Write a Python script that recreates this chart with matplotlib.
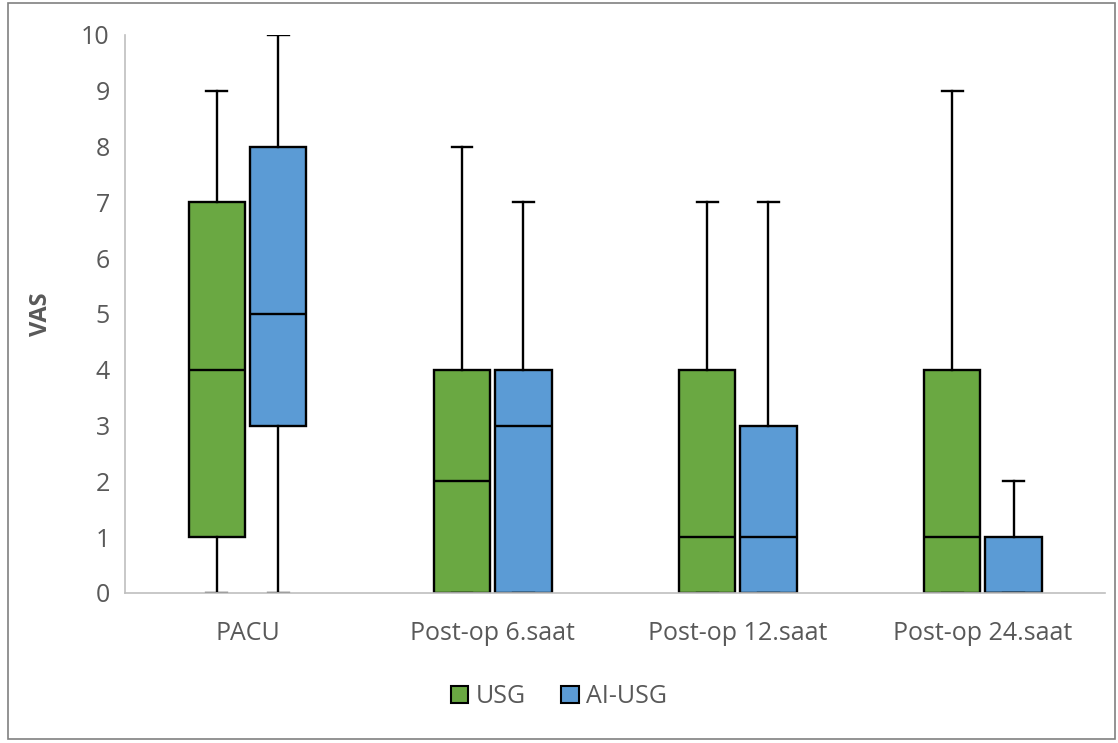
import matplotlib
matplotlib.use('Agg')
import matplotlib.pyplot as plt
from matplotlib.patches import Patch, Rectangle

categories = ["PACU", "Post-op 6.saat", "Post-op 12.saat", "Post-op 24.saat"]
groups = ["USG", "AI-USG"]

# five-number summaries per time point: (min, q1, median, q3, max)
usg = [(0, 1, 4, 7, 9), (0, 0, 2, 4, 8), (0, 0, 1, 4, 7), (0, 0, 1, 4, 9)]
ai_usg = [(0, 3, 5, 8, 10), (0, 0, 3, 4, 7), (0, 0, 1, 3, 7), (0, 0, 0, 1, 2)]

colors = ["#6aa842", "#5b9bd5"]
text_gray = "#595959"
axis_gray = "#bfbfbf"

plt.rcParams['font.family'] = ['Open Sans', 'DejaVu Sans']

fig = plt.figure(figsize=(11.18, 7.43), dpi=100)
ax = fig.add_axes([0.1118, 0.2019, 0.877, 0.751])

offsets = [-0.125, 0.125]
for g, (series, col, off) in enumerate(zip([usg, ai_usg], colors, offsets)):
    stats = []
    for s in series:
        stats.append(dict(whislo=s[0], q1=s[1], med=s[2], q3=s[3], whishi=s[4], fliers=[]))
    pos = [i + 0.5 + off for i in range(len(categories))]
    ax.bxp(stats, positions=pos, widths=0.23, patch_artist=True, showfliers=False,
           boxprops=dict(facecolor=col, edgecolor='black', linewidth=1.7),
           medianprops=dict(color='black', linewidth=1.7),
           whiskerprops=dict(color='black', linewidth=1.7),
           capprops=dict(color='black', linewidth=1.7),
           capwidths=0.085, manage_ticks=False)

ax.set_xlim(0, 4)
ax.set_ylim(0, 10)
ax.set_yticks(range(0, 11))
ax.set_xticks([i + 0.5 for i in range(len(categories))])
ax.set_xticklabels(categories)
ax.tick_params(axis='both', length=0, labelsize=18, colors=text_gray)
ax.tick_params(axis='y', pad=11)
ax.tick_params(axis='x', pad=20)
ax.set_ylabel("VAS", fontsize=17, fontweight='bold', color=text_gray, labelpad=20)

for side in ['top', 'right']:
    ax.spines[side].set_visible(False)
for side in ['left', 'bottom']:
    ax.spines[side].set_color(axis_gray)
    ax.spines[side].set_linewidth(1.2)

handles = [Patch(facecolor=c, edgecolor='black', linewidth=1.5, label=g) for c, g in zip(colors, groups)]
fig.legend(handles=handles, loc='center', bbox_to_anchor=(0.5, 0.062), ncol=2, frameon=False,
           fontsize=18, labelcolor=text_gray, handlelength=0.7, handleheight=0.7,
           handletextpad=0.3, columnspacing=1.4)

fig.patches.append(Rectangle((0.007, 0.006), 0.99, 0.99, transform=fig.transFigure,
                             fill=False, edgecolor='#808080', linewidth=1.2))

fig.savefig('out.png', dpi=100)
